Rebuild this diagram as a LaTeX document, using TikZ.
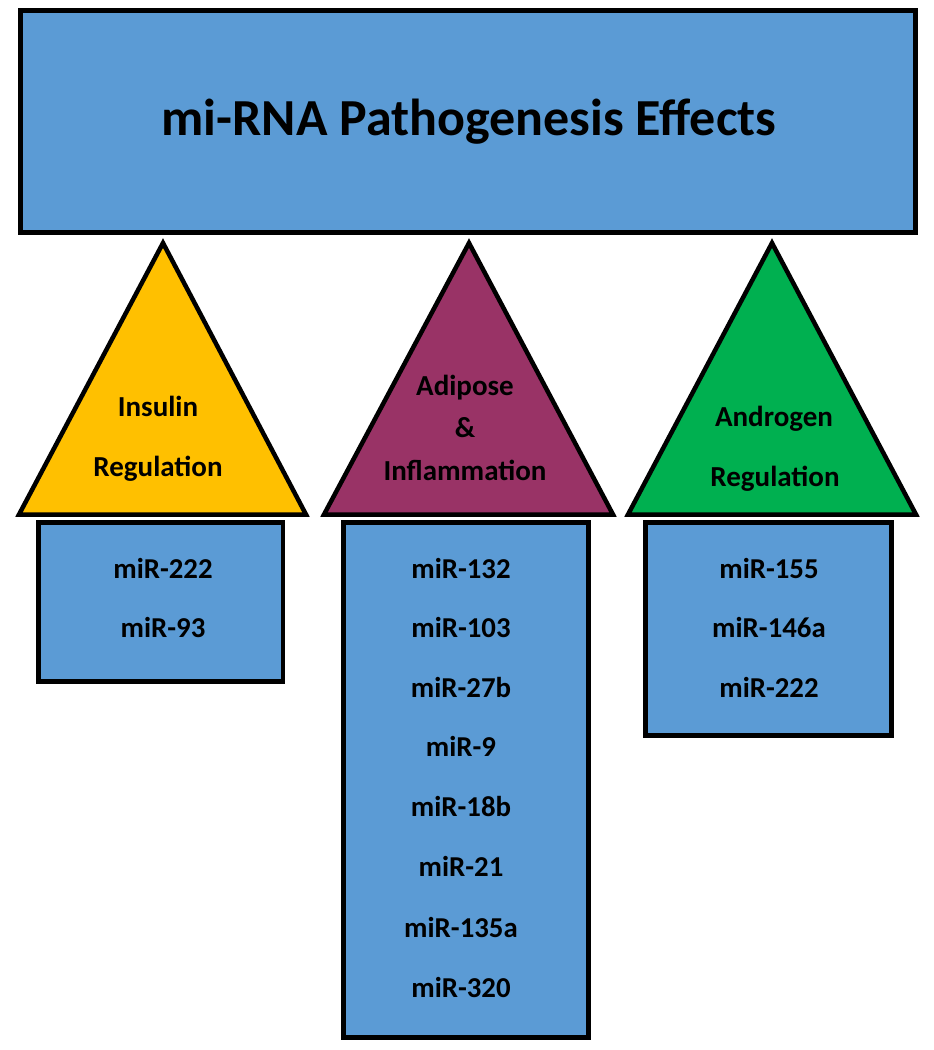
\documentclass[tikz,border=0pt]{standalone}
\usepackage{fontspec}
\setmainfont{Carlito}
\definecolor{boxblue}{HTML}{5B9BD5}
\definecolor{insyellow}{HTML}{FFC000}
\definecolor{adipurple}{HTML}{993366}
\definecolor{andgreen}{HTML}{00B050}
\begin{document}
\begin{tikzpicture}[x=1pt,y=-1pt,
  shapeline/.style={draw=black, line width=4.5pt, line join=miter},
  bluebox/.style={shapeline, fill=boxblue},
  lbl/.style={anchor=base, inner sep=0pt, font=\fontsize{29}{34}\selectfont\bfseries},
  mir/.style={anchor=base, inner sep=0pt, font=\fontsize{28.8}{34}\selectfont\bfseries},
  titlefont/.style={anchor=base, inner sep=0pt, font=\fontsize{52}{60}\selectfont\bfseries}]
\useasboundingbox (0,0) rectangle (934,1050);
\fill[white] (0,0) rectangle (934,1050);
% top box
\draw[bluebox] (20.5,10.5) rectangle (915.5,232.5);
\node[titlefont] (title) at (469,135) {mi-RNA Pathogenesis Effects};
% triangles
\draw[shapeline, fill=insyellow] (163,243) -- (306,514.5) -- (19,514.5) -- cycle;
\draw[shapeline, fill=adipurple] (469,243) -- (613,514.5) -- (324,514.5) -- cycle;
\draw[shapeline, fill=andgreen] (772,243) -- (916,514.5) -- (628,514.5) -- cycle;
\node[lbl] (ins1) at (158,416.5) {Insulin};
\node[lbl] (ins2) at (158,476) {Regulation};
\node[lbl] (adi1) at (465,395) {Adipose};
\node[lbl] (adi2) at (465,437) {\&};
\node[lbl] (adi3) at (465,480) {Inflammation};
\node[lbl] (and1) at (774,426) {Androgen};
\node[lbl] (and2) at (775,486) {Regulation};
% boxes
\draw[bluebox] (38.5,522.5) rectangle (283,681.5);
\draw[bluebox] (343.5,522.5) rectangle (588.5,1037.5);
\draw[bluebox] (645.5,522.5) rectangle (891.5,735.5);
% box 1
\node[mir] (a1) at (163,578) {miR-222};
\node[mir] (a2) at (163,637) {miR-93};
% box 2
\node[mir] (b1) at (461,578) {miR-132};
\node[mir] (b2) at (461,637) {miR-103};
\node[mir] (b3) at (461,697) {miR-27b};
\node[mir] (b4) at (461,756) {miR-9};
\node[mir] (b5) at (461,816) {miR-18b};
\node[mir] (b6) at (461,876) {miR-21};
\node[mir] (b7) at (461,937) {miR-135a};
\node[mir] (b8) at (461,997) {miR-320};
% box 3
\node[mir] (c1) at (769,578) {miR-155};
\node[mir] (c2) at (769,637) {miR-146a};
\node[mir] (c3) at (769,697) {miR-222};
\end{tikzpicture}
\end{document}
